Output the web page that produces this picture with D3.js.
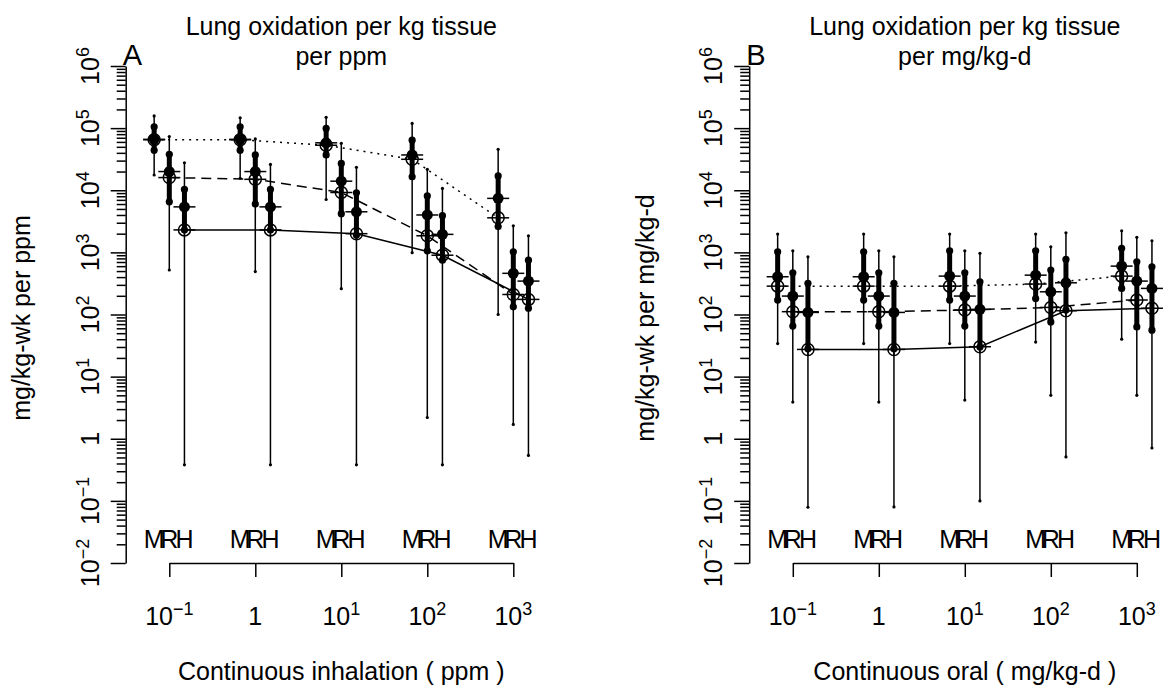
<!DOCTYPE html>
<html>
<head>
<meta charset="utf-8">
<title>Lung oxidation per kg tissue</title>
<script src="https://cdn.jsdelivr.net/npm/d3@7"></script>
<style>
  body { margin: 0; background: #fff; }
  text { font-family: "Liberation Sans", Arial, sans-serif; fill: #000; }
</style>
</head>
<body>
<div id="chart"></div>
<script>
// doses on the x axis and the three species in each group
const doses = [0.1, 1, 10, 100, 1000];
const species = ["M", "R", "H"];
const yExps = [-2, -1, 0, 1, 2, 3, 4, 5, 6];
const xExps = [-1, 0, 1, 2, 3];

// panel A: continuous inhalation, rows are M, R, H
const inhOpen = [[6.5e4, 6.5e4, 5.3e4, 3.15e4, 3.6e3], [1.6e4, 1.5e4, 9.2e3, 1.85e3, 210], [2.3e3, 2.3e3, 2.0e3, 900, 175]];
const inhMed  = [[6.6e4, 6.6e4, 5.8e4, 3.7e4, 7.4e3], [2.0e4, 2.0e4, 1.4e4, 4.0e3, 460], [5.4e3, 5.4e3, 4.5e3, 1.95e3, 345]];
const inhLo50 = [[4.4e4, 4.4e4, 3.7e4, 1.65e4, 2.6e3], [6.5e3, 6.0e3, 4.2e3, 1.06e3, 133], [2.3e3, 2.3e3, 1.9e3, 750, 126]];
const inhHi50 = [[1.05e5, 1.05e5, 9.9e4, 6.4e4, 1.7e4], [3.8e4, 3.7e4, 2.7e4, 8.1e3, 1.02e3], [1.03e4, 1.03e4, 9.1e3, 3.9e3, 750]];
const inhLo95 = [[1.76e4, 1.56e4, 7.1e3, 990, 100], [520, 490, 260, 2.2, 1.7], [0.38, 0.38, 0.38, 0.38, 0.54]];
const inhHi95 = [[1.57e5, 1.47e5, 1.49e5, 1.19e5, 4.56e4], [7.3e4, 6.7e4, 5.7e4, 2.17e4, 2.68e3], [2.77e4, 2.6e4, 2.34e4, 1.07e4, 1.85e3]];

// panel B: continuous oral
const oralOpen = [[286, 286, 286, 309, 415], [111, 111, 118, 130, 171], [27.4, 27.4, 30.3, 115, 126]];
const oralMed  = [[405, 405, 415, 430, 601], [198, 198, 198, 232, 345], [108, 108, 121, 324, 263]];
const oralLo50 = [[171, 171, 171, 181, 263], [65, 65, 65, 76, 63], [28, 28, 30, 118, 56]];
const oralHi50 = [[1020, 1020, 1060, 1060, 1160], [470, 470, 470, 519, 706], [317, 317, 336, 771, 587]];
const oralLo95 = [[34, 34, 34, 36, 40], [3.9, 3.9, 4.2, 5.0, 5.0], [0.079, 0.08, 0.1, 0.51, 0.71]];
const oralHi95 = [[1970, 1970, 1970, 1970, 2230], [1060, 1060, 1060, 1230, 1750], [849, 849, 964, 2070, 1540]];

const W = 1163, H = 690;
const FS = 25;
const shift = [1 / 1.5, 1, 1.5];
const lineDash = ["2,5", "10,6", null];

const svg = d3.select("#chart").append("svg")
    .attr("width", W).attr("height", H);

// writes 10^e as R plotmath would
function powLabel(sel, e) {
  if (e === 0) { sel.text("1"); return; }
  sel.append("tspan").text("10");
  sel.append("tspan").attr("dy", -10).attr("font-size", 18)
     .text(e < 0 ? "\u2212" + (-e) : String(e));
}

function drawPanel(p) {
  const g = svg.append("g");
  const x = d3.scaleLog().domain([0.1, 1000]).range([169.3 + p.off, 513.3 + p.off]);
  const y = d3.scaleLog().domain([1e-2, 1e6]).range([563, 66]);
  const axisX = 125.7 + p.off;
  const mid = (169.3 + 513.3) / 2 + p.off;

  // y axis: majors and minors
  const minors = [];
  yExps.slice(0, -1).forEach(e => { for (let k = 2; k < 10; k++) minors.push(k * Math.pow(10, e)); });
  g.append("g").attr("transform", `translate(${axisX},0)`)
    .call(d3.axisLeft(y).tickValues(yExps.map(e => Math.pow(10, e))).tickSize(15).tickSizeOuter(0).tickFormat(""))
    .call(a => a.selectAll("path,line").attr("stroke", "#000").attr("stroke-width", 1.5));
  g.append("g").attr("transform", `translate(${axisX},0)`)
    .call(d3.axisLeft(y).tickValues(minors).tickSize(9).tickSizeOuter(0).tickFormat(""))
    .call(a => a.select(".domain").remove())
    .call(a => a.selectAll("line").attr("stroke", "#000").attr("stroke-width", 1.5));

  yExps.forEach(e => {
    const yy = y(Math.pow(10, e));
    const t = g.append("text").attr("x", axisX - 27).attr("y", yy)
      .attr("transform", `rotate(-90,${axisX - 27},${yy})`)
      .attr("text-anchor", "middle").attr("font-size", FS);
    powLabel(t, e);
  });

  // x axis
  g.append("g").attr("transform", "translate(0,563)")
    .call(d3.axisBottom(x).tickValues(doses).tickSize(14).tickSizeOuter(0).tickFormat(""))
    .call(a => a.selectAll("path,line").attr("stroke", "#000").attr("stroke-width", 1.5));
  xExps.forEach(e => {
    const t = g.append("text").attr("x", x(Math.pow(10, e))).attr("y", 625)
      .attr("text-anchor", "middle").attr("font-size", FS);
    powLabel(t, e);
  });

  // species letters above each dose
  doses.forEach(d => species.forEach((s, j) => {
    g.append("text").attr("x", x(d * shift[j])).attr("y", 548)
      .attr("text-anchor", "middle").attr("font-size", FS).text(s);
  }));

  // titles
  p.title.forEach((line, i) => {
    g.append("text").attr("x", mid).attr("y", 35 + i * 30)
      .attr("text-anchor", "middle").attr("font-size", FS).text(line);
  });
  g.append("text").attr("x", axisX - 3).attr("y", 65).attr("font-size", 29).text(p.letter);
  g.append("text").attr("x", mid).attr("y", 680)
    .attr("text-anchor", "middle").attr("font-size", FS).text(p.xlab);
  g.append("text").attr("x", 30 + p.off).attr("y", 318)
    .attr("transform", `rotate(-90,${30 + p.off},318)`)
    .attr("text-anchor", "middle").attr("font-size", FS).text(p.ylab);

  // connecting lines through the open circles
  species.forEach((s, j) => {
    g.append("path")
      .datum(doses.map((d, i) => [x(d * shift[j]), y(p.open[j][i])]))
      .attr("d", d3.line())
      .attr("fill", "none").attr("stroke", "#000").attr("stroke-width", 1.5)
      .attr("stroke-dasharray", lineDash[j]);
  });

  species.forEach((s, j) => {
    doses.forEach((d, i) => {
      const cx = x(d * shift[j]);
      const m = g.append("g");
      // 95% interval
      m.append("line").attr("x1", cx).attr("x2", cx)
        .attr("y1", y(p.lo95[j][i])).attr("y2", y(p.hi95[j][i]))
        .attr("stroke", "#000").attr("stroke-width", 1.5);
      [p.lo95[j][i], p.hi95[j][i]].forEach(v =>
        m.append("circle").attr("cx", cx).attr("cy", y(v)).attr("r", 1.6));
      // 50% interval
      m.append("line").attr("x1", cx).attr("x2", cx)
        .attr("y1", y(p.lo50[j][i])).attr("y2", y(p.hi50[j][i]))
        .attr("stroke", "#000").attr("stroke-width", 5);
      [p.lo50[j][i], p.hi50[j][i]].forEach(v =>
        m.append("circle").attr("cx", cx).attr("cy", y(v)).attr("r", 3.6));
      // median
      const ym = y(p.med[j][i]);
      m.append("circle").attr("cx", cx).attr("cy", ym).attr("r", 5.5);
      m.append("line").attr("x1", cx - 11).attr("x2", cx + 11).attr("y1", ym).attr("y2", ym)
        .attr("stroke", "#000").attr("stroke-width", 1.5);
      // open circle with cross
      const yo = y(p.open[j][i]);
      m.append("circle").attr("cx", cx).attr("cy", yo).attr("r", 6)
        .attr("fill", "none").attr("stroke", "#000").attr("stroke-width", 1.5);
      m.append("line").attr("x1", cx - 11).attr("x2", cx + 11).attr("y1", yo).attr("y2", yo)
        .attr("stroke", "#000").attr("stroke-width", 1.5);
      m.append("line").attr("x1", cx).attr("x2", cx).attr("y1", yo - 6).attr("y2", yo + 6)
        .attr("stroke", "#000").attr("stroke-width", 1.5);
    });
  });
}

drawPanel({
  off: 0, letter: "A",
  title: ["Lung oxidation per kg tissue", "per ppm"],
  ylab: "mg/kg-wk per ppm", xlab: "Continuous inhalation ( ppm )",
  open: inhOpen, med: inhMed, lo50: inhLo50, hi50: inhHi50, lo95: inhLo95, hi95: inhHi95
});
drawPanel({
  off: 623.5, letter: "B",
  title: ["Lung oxidation per kg tissue", "per mg/kg-d"],
  ylab: "mg/kg-wk per mg/kg-d", xlab: "Continuous oral ( mg/kg-d )",
  open: oralOpen, med: oralMed, lo50: oralLo50, hi50: oralHi50, lo95: oralLo95, hi95: oralHi95
});
</script>
</body>
</html>
